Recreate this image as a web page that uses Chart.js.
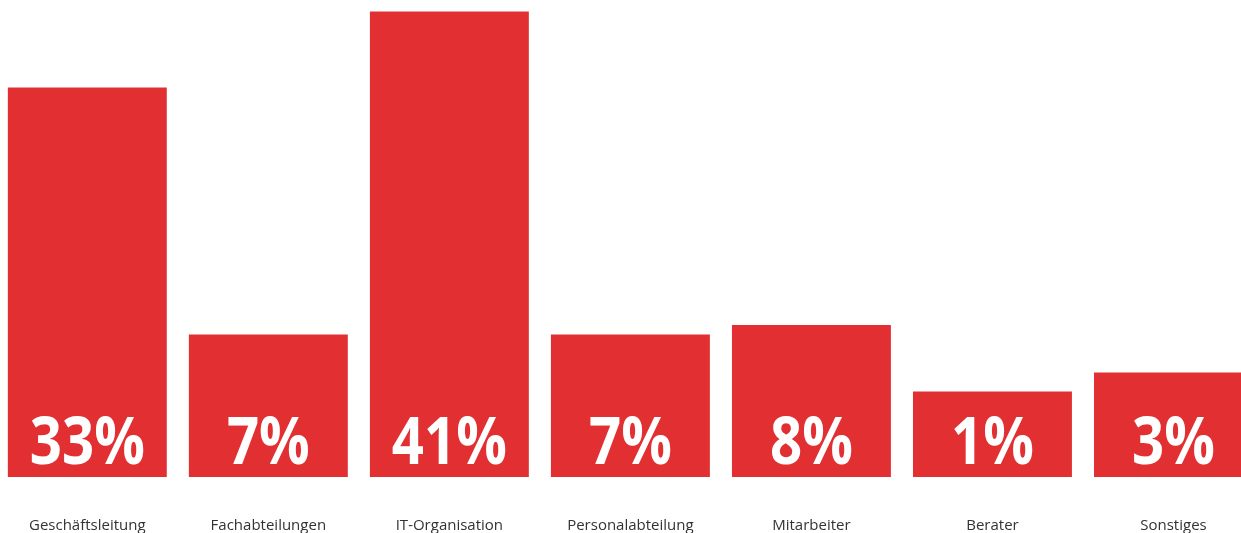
<!DOCTYPE html>
<html lang="de">
<head>
<meta charset="utf-8">
<title>Verantwortung</title>
<script src="https://cdn.jsdelivr.net/npm/chart.js@4/dist/chart.umd.min.js"></script>
<style>
  html, body { margin: 0; padding: 0; background: #fff; overflow: hidden; }
  #wrap { position: relative; width: 1241px; height: 533px; overflow: hidden; }
  /* the last bar runs past the right edge, the labels past the bottom */
  #chart { position: absolute; left: -11px; top: 0; }
</style>
</head>
<body>
<div id="wrap">
  <canvas id="chart" width="1275" height="575"></canvas>
</div>
<script>
// Categories and shares (%)
const categories = ['Geschäftsleitung', 'Fachabteilungen', 'IT-Organisation', 'Personalabteilung', 'Mitarbeiter', 'Berater', 'Sonstiges'];
const shares = [33, 7, 41, 7, 8, 1, 3];

const barRed = '#e23032';
// bars start below zero so the small ones still hold their label
const barBase = -8;

// Writes the white percent value into the foot of each bar
const valueInBar = {
    id: 'valueInBar',
    afterDatasetsDraw(chart) {
        const ctx = chart.ctx;
        const meta = chart.getDatasetMeta(0);
        ctx.save();
        ctx.fillStyle = '#ffffff';
        ctx.font = "700 67px 'Open Sans'";
        ctx.textAlign = 'center';
        ctx.textBaseline = 'alphabetic';
        meta.data.forEach((bar, i) => {
            ctx.save();
            ctx.translate(bar.x, bar.base - 13);
            ctx.scale(0.84, 1); // narrower digits
            ctx.fillText(shares[i] + '%', 0, 0);
            ctx.restore();
        });
        ctx.restore();
    }
};

const ctx = document.getElementById('chart').getContext('2d');
new Chart(ctx, {
    type: 'bar',
    data: {
        labels: categories,
        datasets: [{
            data: shares,
            base: barBase,
            backgroundColor: barRed,
            borderWidth: 0,
            barPercentage: 0.878,
            categoryPercentage: 1
        }]
    },
    options: {
        responsive: false,
        animation: false,
        layout: { padding: 0 },
        plugins: {
            legend: { display: false },
            tooltip: { enabled: false }
        },
        scales: {
            x: {
                grid: { display: false, drawTicks: false },
                border: { display: false },
                ticks: {
                    autoSkip: false,
                    maxRotation: 0,
                    padding: 40,
                    color: '#333333',
                    font: { family: "'Open Sans'", size: 15 }
                }
            },
            y: {
                display: false,
                min: barBase,
                max: 42.2
            }
        }
    },
    plugins: [valueInBar]
});
</script>
</body>
</html>
